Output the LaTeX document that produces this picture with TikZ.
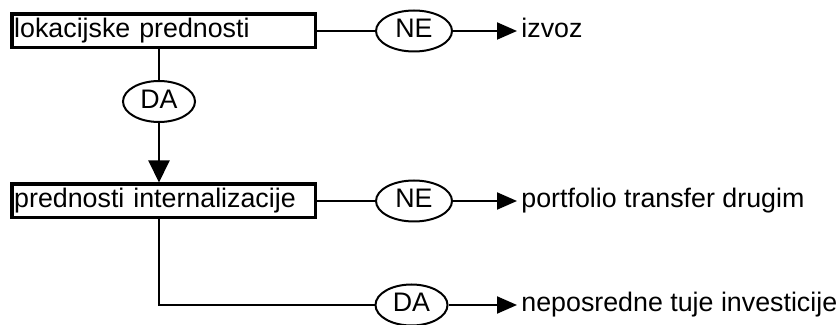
\documentclass[tikz,border=0pt]{standalone}
\usepackage{fontspec}
\setmainfont{Liberation Sans}
\usetikzlibrary{positioning,shapes.geometric,arrows.meta}

\begin{document}
\begin{tikzpicture}[x=0.5pt, y=-0.5pt,
  every node/.style={font=\fontsize{13.4}{16}\selectfont, text height=9.5pt, text depth=2.8pt},
  factor/.style={draw, line width=1.75pt, minimum width=151.75pt, minimum height=16.75pt,
    text width=149.3pt, align=left, inner sep=1.2pt},
  answer/.style={draw, ellipse, line width=1pt, minimum width=#1, minimum height=20.5pt, inner sep=0pt},
  answer/.default=38pt,
  result/.style={anchor=west, inner sep=2pt},
  link/.style={line width=1pt},
  flow/.style={link, -{Triangle[length=10pt,width=8.5pt]}}]
  \useasboundingbox (0,0) rectangle (840,325);
  % Decision boxes
  \node[factor] (lok) at (163.5,31) {lokacijske prednosti};
  \node[factor] (intern) at (163.5,201) {prednosti internalizacije};
  % Answers
  \node[answer] (ne1) at (414,31) {NE};
  \node[answer=36pt] (da1) at (159,101.5) {DA};
  \node[answer] (ne2) at (414,201) {NE};
  \node[answer=36pt] (da2) at (411.5,305) {DA};
  % Outcomes
  \node[result] (izvoz) at (517,31) {izvoz};
  \node[result] (portfolio) at (517,201) {portfolio transfer drugim};
  \node[result] (fdi) at (517,305) {neposredne tuje investicije};
  % First question
  \draw[link] (lok.east) -- (ne1.west);
  \draw[flow] (ne1.east) -- (izvoz.west);
  \draw[link] (da1 |- lok.south) -- (da1.north);
  \draw[flow, -{Triangle[length=11pt,width=10.5pt]}] (da1.south) -- (da1 |- intern.north);
  % Second question
  \draw[link] (intern.east) -- (ne2.west);
  \draw[flow] (ne2.east) -- (portfolio.west);
  \draw[link] (da1 |- intern.south) |- (da2.west);
  \draw[flow] (da2.east) -- (fdi.west);
\end{tikzpicture}
\end{document}
